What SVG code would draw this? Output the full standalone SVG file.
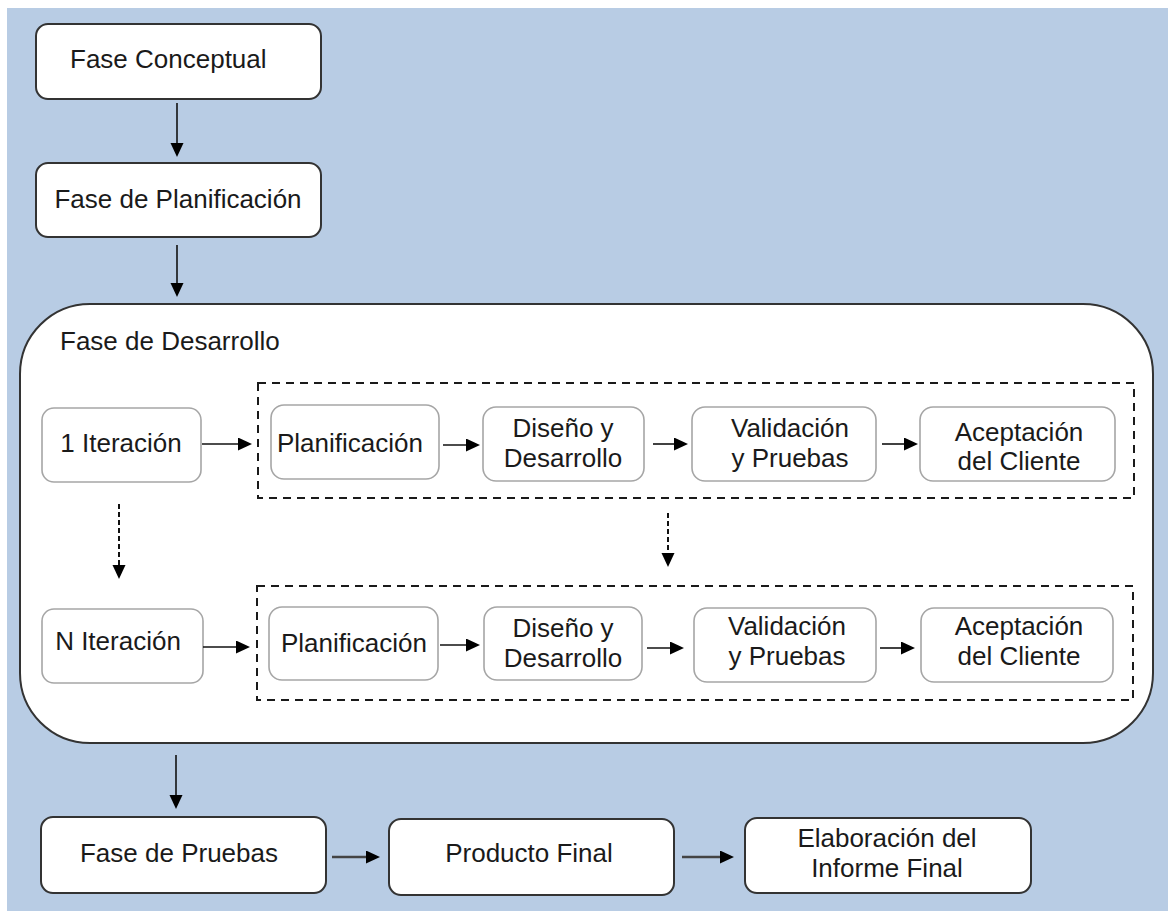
<svg xmlns="http://www.w3.org/2000/svg" width="1168" height="911" viewBox="0 0 1168 911">
<style>
.bg{fill:#b8cce4}
.main{fill:#ffffff;stroke:#333333;stroke-width:2}
.inner{fill:#ffffff;stroke:#a6a6a6;stroke-width:1.6}
.dash{fill:none;stroke:#1a1a1a;stroke-width:2;stroke-dasharray:8 6}
.t{font-family:"Liberation Sans",Arial,sans-serif;font-size:26px;fill:#1a1a1a}
.m{text-anchor:middle}
.arr{stroke:#111111;stroke-width:1.6;fill:none;marker-end:url(#ah)}
.arrd{stroke:#111111;stroke-width:2;fill:none;stroke-dasharray:5 3;marker-end:url(#ah)}
.arrb{stroke:#444444;stroke-width:2.5;fill:none;marker-end:url(#ah)}
</style>
<defs>
<marker id="ah" markerUnits="userSpaceOnUse" markerWidth="16" markerHeight="14" refX="10" refY="6.5" orient="auto">
<path d="M0,0 L14,6.5 L0,13 z" fill="#000000"/>
</marker>
</defs>
<rect x="0" y="0" width="1168" height="911" fill="#ffffff"/>
<rect class="bg" x="7" y="8" width="1161" height="903"/>

<g id="n_conceptual">
<rect class="main" x="36" y="24" width="285" height="75" rx="12"/>
<text class="t" x="70" y="68">Fase Conceptual</text>
</g>
<g id="n_planificacion">
<rect class="main" x="36" y="163" width="285" height="74" rx="12"/>
<text class="t m" x="178" y="208">Fase de Planificación</text>
</g>
<g id="n_desarrollo">
<rect class="main" x="20" y="304" width="1133" height="439" rx="70"/>
<text class="t" x="60" y="350">Fase de Desarrollo</text>
</g>
<g id="g_iter1">
<rect class="dash" x="258" y="383" width="876" height="115"/>
</g>
<g id="g_iterN">
<rect class="dash" x="257" y="586" width="876" height="114"/>
</g>
<g id="n_it1">
<rect class="inner" x="42" y="408" width="159" height="74" rx="12"/>
<text class="t m" x="121" y="452">1 Iteración</text>
</g>
<g id="n_p1">
<rect class="inner" x="271" y="405" width="168" height="74" rx="13"/>
<text class="t m" x="350" y="452">Planificación</text>
</g>
<g id="n_d1">
<rect class="inner" x="483" y="407" width="161" height="74" rx="13"/>
<text class="t m" x="563" y="437">Diseño y</text>
<text class="t m" x="563" y="467">Desarrollo</text>
</g>
<g id="n_v1">
<rect class="inner" x="692" y="407" width="184" height="74" rx="13"/>
<text class="t m" x="790" y="437">Validación</text>
<text class="t m" x="790" y="467">y Pruebas</text>
</g>
<g id="n_a1">
<rect class="inner" x="920" y="407" width="195" height="74" rx="13"/>
<text class="t m" x="1019" y="441">Aceptación</text>
<text class="t m" x="1019" y="470">del Cliente</text>
</g>
<g id="n_itN">
<rect class="inner" x="42" y="609" width="161" height="74" rx="12"/>
<text class="t m" x="118" y="650">N Iteración</text>
</g>
<g id="n_p2">
<rect class="inner" x="269" y="607" width="169" height="73" rx="13"/>
<text class="t m" x="354" y="652">Planificación</text>
</g>
<g id="n_d2">
<rect class="inner" x="484" y="607" width="158" height="73" rx="13"/>
<text class="t m" x="563" y="637">Diseño y</text>
<text class="t m" x="563" y="667">Desarrollo</text>
</g>
<g id="n_v2">
<rect class="inner" x="694" y="608" width="182" height="74" rx="13"/>
<text class="t m" x="787" y="635">Validación</text>
<text class="t m" x="787" y="665">y Pruebas</text>
</g>
<g id="n_a2">
<rect class="inner" x="921" y="608" width="192" height="74" rx="13"/>
<text class="t m" x="1019" y="635">Aceptación</text>
<text class="t m" x="1019" y="665">del Cliente</text>
</g>
<g id="n_pruebas">
<rect class="main" x="41" y="817" width="285" height="76" rx="12"/>
<text class="t m" x="179" y="862">Fase de Pruebas</text>
</g>
<g id="n_producto">
<rect class="main" x="389" y="819" width="285" height="76" rx="12"/>
<text class="t m" x="529" y="862">Producto Final</text>
</g>
<g id="n_informe">
<rect class="main" x="745" y="818" width="286" height="75" rx="12"/>
<text class="t m" x="887" y="847">Elaboración del</text>
<text class="t m" x="887" y="877">Informe Final</text>
</g>

<g id="connectors">
<line class="arr" x1="177" y1="103" x2="177" y2="153"/>
<line class="arr" x1="177" y1="245" x2="177" y2="293"/>
<line class="arr" x1="202" y1="444" x2="248" y2="444"/>
<line class="arr" x1="443" y1="445" x2="476" y2="445"/>
<line class="arr" x1="653" y1="444" x2="684" y2="444"/>
<line class="arr" x1="882" y1="444" x2="914" y2="444"/>
<line class="arrd" x1="119" y1="504" x2="119" y2="575"/>
<line class="arrd" x1="668" y1="513" x2="668" y2="563"/>
<line class="arr" x1="203" y1="647" x2="246" y2="647"/>
<line class="arr" x1="440" y1="645" x2="476" y2="645"/>
<line class="arr" x1="647" y1="648" x2="680" y2="648"/>
<line class="arr" x1="880" y1="648" x2="911" y2="648"/>
<line class="arr" x1="176" y1="755" x2="176" y2="805"/>
<line class="arrb" x1="332" y1="857" x2="376" y2="857"/>
<line class="arrb" x1="682" y1="857" x2="730" y2="857"/>
</g>
</svg>
